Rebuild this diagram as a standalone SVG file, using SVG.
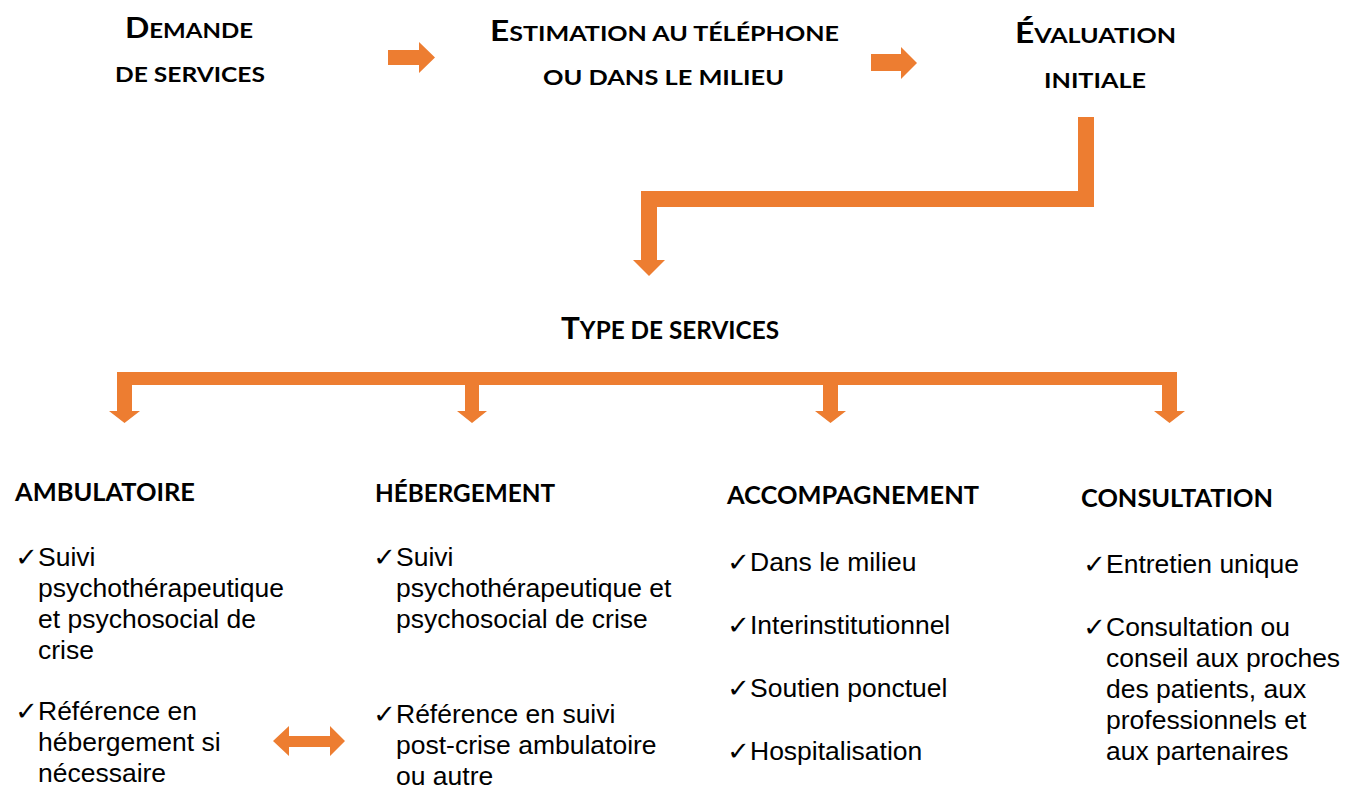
<svg xmlns="http://www.w3.org/2000/svg" width="1345" height="789" viewBox="0 0 1345 789">
<style>
.hd{font-family:Lato,"Liberation Sans",sans-serif;font-weight:bold;fill:#000}
.big{font-size:28px}
.sm{font-size:21px}
.ch{font-family:Lato,"Liberation Sans",sans-serif;font-weight:bold;font-size:25px;fill:#000}
.it{font-family:"Liberation Sans",Arial,sans-serif;font-size:25px;fill:#000}
.ck{font-family:"DejaVu Sans",sans-serif;font-size:26px;fill:#000}
.conn{fill:#ED7D31;stroke:none}
</style>
<rect width="1345" height="789" fill="#fff"/>
<g id="connectors">
<polygon class="conn" points="388,50 419,50 419,42 435,57.5 419,73 419,65 388,65"/>
<polygon class="conn" points="871,54 901,54 901,47 917,63 901,79 901,71 871,71"/>
<polygon class="conn" points="1078,117 1094,117 1094,207 657,207 657,260 665,260 649,276 633,260 641,260 641,191 1078,191"/>
<rect class="conn" x="117" y="372" width="1060" height="13"/>
<polygon class="conn" points="117,385 132,385 132,411 140,411 124.5,423 109,411 117,411"/>
<polygon class="conn" points="465,385 479,385 479,411 487,411 472,423 457,411 465,411"/>
<polygon class="conn" points="823,385 838,385 838,411 846,411 830.5,423 815,411 823,411"/>
<polygon class="conn" points="1162,385 1177,385 1177,411 1185,411 1169.5,423 1154,411 1162,411"/>
<polygon class="conn" points="273,741 289,726 289,736 330,736 330,726 345,741 330,756 330,747 289,747 289,756"/>
</g>
<g id="n-demande">
<text class="hd" x="125" y="38" textLength="128" lengthAdjust="spacingAndGlyphs"><tspan class="big">D</tspan><tspan class="sm">EMANDE</tspan></text>
<text class="hd sm" x="115" y="82" textLength="150" lengthAdjust="spacingAndGlyphs">DE SERVICES</text>
</g>
<g id="n-estimation">
<text class="hd" x="490" y="41" textLength="349" lengthAdjust="spacingAndGlyphs"><tspan class="big">E</tspan><tspan class="sm">STIMATION AU TÉLÉPHONE</tspan></text>
<text class="hd sm" x="543" y="85" textLength="241" lengthAdjust="spacingAndGlyphs">OU DANS LE MILIEU</text>
</g>
<g id="n-evaluation">
<text class="hd" x="1015" y="43" textLength="161" lengthAdjust="spacingAndGlyphs"><tspan class="big">É</tspan><tspan class="sm">VALUATION</tspan></text>
<text class="hd sm" x="1044" y="88" textLength="102" lengthAdjust="spacingAndGlyphs">INITIALE</text>
</g>
<g id="n-type">
<text class="hd" x="561" y="339" textLength="218" lengthAdjust="spacingAndGlyphs"><tspan style="font-size:31px">T</tspan><tspan style="font-size:24px">YPE DE SERVICES</tspan></text>
</g>
<g id="n-ambulatoire">
<text class="ch" x="15" y="501" textLength="180" lengthAdjust="spacingAndGlyphs">AMBULATOIRE</text>
<g transform="translate(15 0) scale(1.06 1)">
<text class="ck" x="0" y="566">✓</text>
<text class="it" x="21.7" y="566">Suivi</text>
<text class="it" x="21.7" y="597">psychothérapeutique</text>
<text class="it" x="21.7" y="628">et psychosocial de</text>
<text class="it" x="21.7" y="659">crise</text>
<text class="ck" x="0" y="720">✓</text>
<text class="it" x="21.7" y="720">Référence en</text>
<text class="it" x="21.7" y="751">hébergement si</text>
<text class="it" x="21.7" y="782">nécessaire</text>
</g>
</g>
<g id="n-hebergement">
<text class="ch" x="375" y="502" textLength="180" lengthAdjust="spacingAndGlyphs">HÉBERGEMENT</text>
<g transform="translate(373 0) scale(1.06 1)">
<text class="ck" x="0" y="566">✓</text>
<text class="it" x="21.7" y="566">Suivi</text>
<text class="it" x="21.7" y="597">psychothérapeutique et</text>
<text class="it" x="21.7" y="628">psychosocial de crise</text>
<text class="ck" x="0" y="723">✓</text>
<text class="it" x="21.7" y="723">Référence en suivi</text>
<text class="it" x="21.7" y="754">post-crise ambulatoire</text>
<text class="it" x="21.7" y="785">ou autre</text>
</g>
</g>
<g id="n-accompagnement">
<text class="ch" x="727" y="504" textLength="252" lengthAdjust="spacingAndGlyphs">ACCOMPAGNEMENT</text>
<g transform="translate(727 0) scale(1.06 1)">
<text class="ck" x="0" y="571">✓</text>
<text class="it" x="21.7" y="571">Dans le milieu</text>
<text class="ck" x="0" y="634">✓</text>
<text class="it" x="21.7" y="634">Interinstitutionnel</text>
<text class="ck" x="0" y="697">✓</text>
<text class="it" x="21.7" y="697">Soutien ponctuel</text>
<text class="ck" x="0" y="760">✓</text>
<text class="it" x="21.7" y="760">Hospitalisation</text>
</g>
</g>
<g id="n-consultation">
<text class="ch" x="1081" y="507" textLength="192" lengthAdjust="spacingAndGlyphs">CONSULTATION</text>
<g transform="translate(1083 0) scale(1.06 1)">
<text class="ck" x="0" y="573">✓</text>
<text class="it" x="21.7" y="573">Entretien unique</text>
<text class="ck" x="0" y="636">✓</text>
<text class="it" x="21.7" y="636">Consultation ou</text>
<text class="it" x="21.7" y="667">conseil aux proches</text>
<text class="it" x="21.7" y="698">des patients, aux</text>
<text class="it" x="21.7" y="729">professionnels et</text>
<text class="it" x="21.7" y="760">aux partenaires</text>
</g>
</g>
</svg>
